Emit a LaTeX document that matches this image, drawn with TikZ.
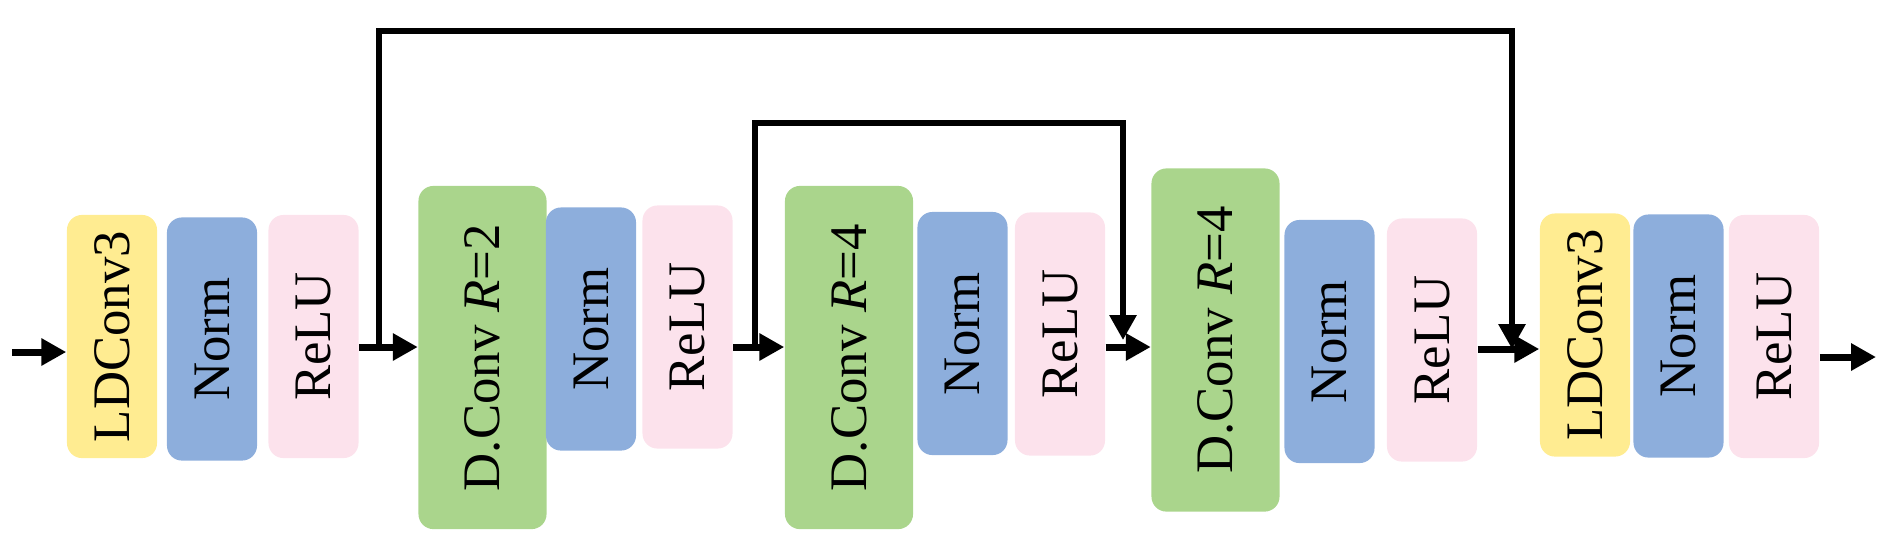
\documentclass[tikz,border=0pt]{standalone}
\usepackage{fontspec}
\setmainfont{Liberation Serif}
\usetikzlibrary{arrows.meta}
\definecolor{ldyel}{RGB}{255,236,145}
\definecolor{nrmblue}{RGB}{141,174,220}
\definecolor{relupink}{RGB}{252,226,236}
\definecolor{dcgreen}{RGB}{170,213,140}
\begin{document}
\begin{tikzpicture}[x=0.01cm,y=-0.01cm,>={Triangle[length=0.25cm,width=0.26cm]},
	blk/.style={rounded corners=0.15cm,inner sep=0pt,minimum width=0.9cm,minimum height=2.43cm,font=\fontsize{15}{18}\selectfont},
	dcblk/.style={blk,fill=dcgreen,minimum width=1.28cm,minimum height=3.43cm},
	flow/.style={->,line width=2pt},
	skip/.style={->,line width=1.7pt}]
	\useasboundingbox (0,0) rectangle (1891,553);
	% first block
	\node[blk,fill=ldyel] (ld1) at (112,336.5) {\rotatebox{90}{LDConv3}};
	\node[blk,fill=nrmblue] (n1) at (212,339) {\rotatebox{90}{Norm}};
	\node[blk,fill=relupink] (r1) at (313.5,336.5) {\rotatebox{90}{ReLU}};
	% dilated convolutions
	\node[dcblk] (dc1) at (482.5,357.5) {\rotatebox{90}{D.Conv \textit{R}=2}};
	\node[blk,fill=nrmblue] (n2) at (591,329) {\rotatebox{90}{Norm}};
	\node[blk,fill=relupink] (r2) at (687.5,327) {\rotatebox{90}{ReLU}};
	\node[dcblk] (dc2) at (849,357.5) {\rotatebox{90}{D.Conv \textit{R}=4}};
	\node[blk,fill=nrmblue] (n3) at (962.5,333.5) {\rotatebox{90}{Norm}};
	\node[blk,fill=relupink] (r3) at (1060,334) {\rotatebox{90}{ReLU}};
	\node[dcblk] (dc3) at (1215.5,340) {\rotatebox{90}{D.Conv \textit{R}=4}};
	\node[blk,fill=nrmblue] (n4) at (1329.5,341.5) {\rotatebox{90}{Norm}};
	\node[blk,fill=relupink] (r4) at (1432,340) {\rotatebox{90}{ReLU}};
	% last block
	\node[blk,fill=ldyel] (ld2) at (1585,335) {\rotatebox{90}{LDConv3}};
	\node[blk,fill=nrmblue] (n5) at (1678.5,336) {\rotatebox{90}{Norm}};
	\node[blk,fill=relupink] (r5) at (1774,336.5) {\rotatebox{90}{ReLU}};
	% ends and junctions
	\coordinate (in) at (12,352);
	\coordinate (out) at (1876,357);
	\coordinate (sk1a) at (379,347);
	\coordinate (sk1b) at (1512,349);
	\coordinate (sk2a) at (755,347);
	\coordinate (sk2b) at (1123,340);
	% main path
	\draw[flow] (in) -- (ld1.west |- in);
	\draw[flow] (r1.east |- sk1a) -- (dc1.west |- sk1a);
	\draw[flow] (r2.east |- sk2a) -- (dc2.west |- sk2a);
	\draw[flow] (r3.east |- sk2a) -- (dc3.west |- sk2a);
	\draw[flow] (r4.east |- sk1b) -- (ld2.west |- sk1b);
	\draw[flow] (r5.east |- out) -- (out);
	% skip connections
	\draw[skip] (sk1a) -- ++(0,-316) -| (sk1b);
	\draw[skip] (sk2a) -- ++(0,-224) -| (sk2b);
\end{tikzpicture}
\end{document}
